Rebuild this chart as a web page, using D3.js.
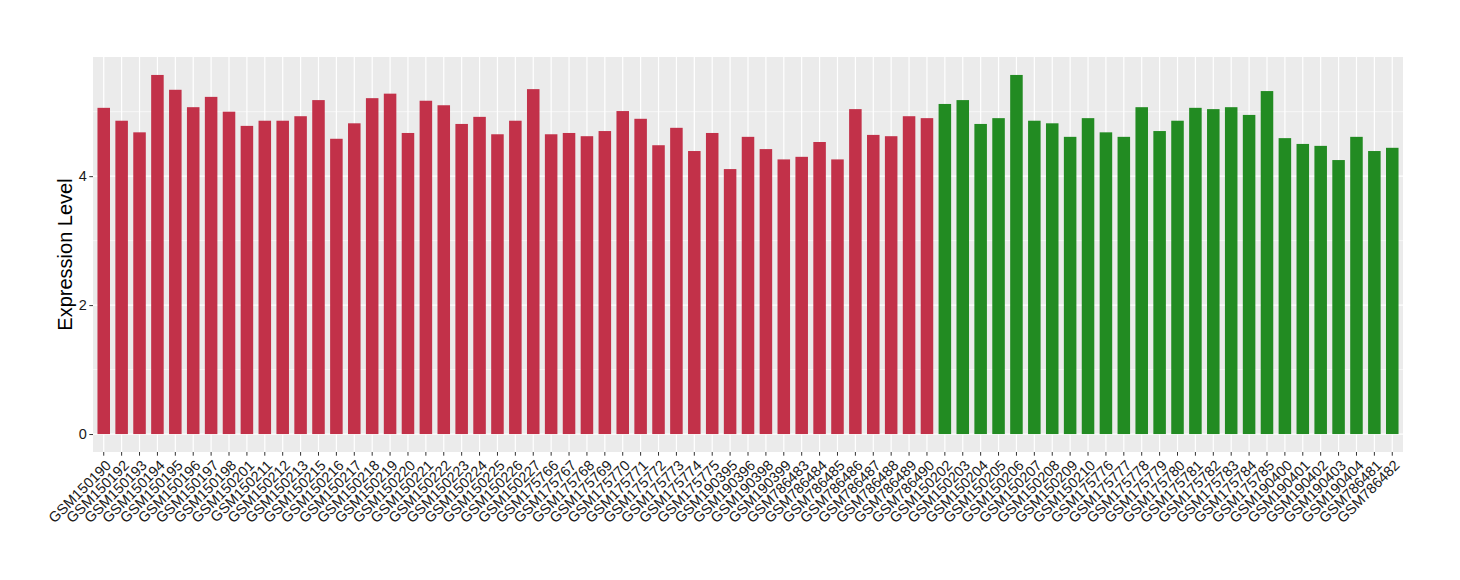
<!DOCTYPE html>
<html>
<head>
<meta charset="utf-8">
<script src="https://cdn.jsdelivr.net/npm/d3@7"></script>
<style>
  body { margin: 0; background: #fff; }
  text { font-family: "Liberation Sans", Arial, sans-serif; }
</style>
</head>
<body>
<div id="chart"></div>
<script>
// samples in the order shown, first group (red) then second group (green)
let redSamples = ["GSM150190", "GSM150192", "GSM150193", "GSM150194", "GSM150195", "GSM150196", "GSM150197",
  "GSM150198", "GSM150201", "GSM150211", "GSM150212", "GSM150213", "GSM150215", "GSM150216", "GSM150217",
  "GSM150218", "GSM150219", "GSM150220", "GSM150221", "GSM150222", "GSM150223", "GSM150224", "GSM150225",
  "GSM150226", "GSM150227", "GSM175766", "GSM175767", "GSM175768", "GSM175769", "GSM175770", "GSM175771",
  "GSM175772", "GSM175773", "GSM175774", "GSM175775", "GSM190395", "GSM190396", "GSM190398", "GSM190399",
  "GSM786483", "GSM786484", "GSM786485", "GSM786486", "GSM786487", "GSM786488", "GSM786489", "GSM786490"];

let redValues = [5.06, 4.86, 4.68, 5.57, 5.34, 5.07, 5.23, 5.00, 4.78, 4.86, 4.86, 4.93, 5.18, 4.58, 4.82,
  5.21, 5.28, 4.67, 5.17, 5.10, 4.81, 4.92, 4.65, 4.86, 5.35, 4.65, 4.67, 4.62, 4.70, 5.01, 4.89,
  4.48, 4.75, 4.39, 4.67, 4.11, 4.61, 4.42, 4.26, 4.30, 4.53, 4.26, 5.04, 4.64, 4.62, 4.93, 4.90];

let greenSamples = ["GSM150202", "GSM150203", "GSM150204", "GSM150205", "GSM150206", "GSM150207", "GSM150208",
  "GSM150209", "GSM150210", "GSM175776", "GSM175777", "GSM175778", "GSM175779", "GSM175780", "GSM175781",
  "GSM175782", "GSM175783", "GSM175784", "GSM175785", "GSM190400", "GSM190401", "GSM190402", "GSM190403",
  "GSM190404", "GSM786481", "GSM786482"];

let greenValues = [5.12, 5.18, 4.81, 4.90, 5.57, 4.86, 4.82, 4.61, 4.90, 4.68, 4.61, 5.07, 4.70, 4.86, 5.06,
  5.04, 5.07, 4.95, 5.32, 4.59, 4.50, 4.47, 4.25, 4.61, 4.39, 4.44];

let yTicks = [0, 2, 4];

let w = 1460,
    h = 580;

let margin = {
  top: 57,
  bottom: 128,
  left: 93,
  right: 57
};

let redColor = "#C23149",
    greenColor = "#228B22";

let data = redSamples.map((s, i) => ({ sample: s, value: redValues[i], color: redColor }))
  .concat(greenSamples.map((s, i) => ({ sample: s, value: greenValues[i], color: greenColor })));

let svg = d3.select("#chart")
            .append("svg")
            .attr("width", w)
            .attr("height", h);

let pw = w - margin.left - margin.right,
    ph = h - margin.top - margin.bottom;

let g = svg.append("g")
           .attr("transform", `translate(${margin.left}, ${margin.top})`);

// ggplot-like expansion: 0.6 band on each side of discrete axis
let n = data.length;
let step = pw / (n - 1 + 1.2);
let x = d3.scaleBand()
          .domain(data.map(d => d.sample))
          .range([step * 0.1, pw - step * 0.1])
          .paddingInner(0.3)
          .paddingOuter(0.15);

let maxV = d3.max(data, d => d.value);
let y = d3.scaleLinear()
          .domain([-maxV * 0.05, maxV * 1.05])
          .range([ph, 0]);

// panel background
g.append("rect")
  .attr("width", pw)
  .attr("height", ph)
  .attr("fill", "#EBEBEB");

// minor horizontal grid
g.selectAll(".minor")
  .data([1, 3, 5])
  .enter()
  .append("line")
  .attr("x1", 0)
  .attr("x2", pw)
  .attr("y1", d => y(d))
  .attr("y2", d => y(d))
  .attr("stroke", "#fff")
  .attr("stroke-width", 0.6);

// major horizontal grid
g.selectAll(".major")
  .data(yTicks)
  .enter()
  .append("line")
  .attr("x1", 0)
  .attr("x2", pw)
  .attr("y1", d => y(d))
  .attr("y2", d => y(d))
  .attr("stroke", "#fff")
  .attr("stroke-width", 1.2);

// vertical grid at each sample
g.selectAll(".vgrid")
  .data(data)
  .enter()
  .append("line")
  .attr("x1", d => x(d.sample) + x.bandwidth() / 2)
  .attr("x2", d => x(d.sample) + x.bandwidth() / 2)
  .attr("y1", 0)
  .attr("y2", ph)
  .attr("stroke", "#fff")
  .attr("stroke-width", 1.2);

// bars
g.selectAll(".bar")
  .data(data)
  .enter()
  .append("rect")
  .attr("class", "bar")
  .attr("x", d => x(d.sample))
  .attr("width", x.bandwidth())
  .attr("y", d => y(d.value))
  .attr("height", d => y(0) - y(d.value))
  .attr("fill", d => d.color);

// y axis
let yAxis = g.append("g")
  .call(d3.axisLeft(y).tickValues(yTicks).tickFormat(d3.format("d")).tickSize(3.7).tickPadding(2.5));
yAxis.select(".domain").remove();
yAxis.selectAll(".tick line").attr("stroke", "#333").attr("stroke-width", 1);
yAxis.selectAll(".tick text")
  .attr("fill", "#1a1a1a")
  .style("font-size", "14.5px");

// x axis
let xAxis = g.append("g")
  .attr("transform", `translate(0, ${ph})`)
  .call(d3.axisBottom(x).tickSize(3.7).tickPadding(0));
xAxis.select(".domain").remove();
xAxis.selectAll(".tick line").attr("stroke", "#333").attr("stroke-width", 1);
xAxis.selectAll(".tick text")
  .attr("fill", "#1a1a1a")
  .style("font-size", "14.5px")
  .attr("text-anchor", "end")
  .attr("y", 0)
  .attr("dy", "0.71em")
  .attr("transform", "translate(1, 7) rotate(-45)");

// y title
svg.append("text")
  .attr("transform", `translate(72, ${margin.top + ph / 2}) rotate(-90)`)
  .attr("text-anchor", "middle")
  .style("font-size", "20px")
  .attr("fill", "#000")
  .text("Expression Level");
</script>
</body>
</html>
